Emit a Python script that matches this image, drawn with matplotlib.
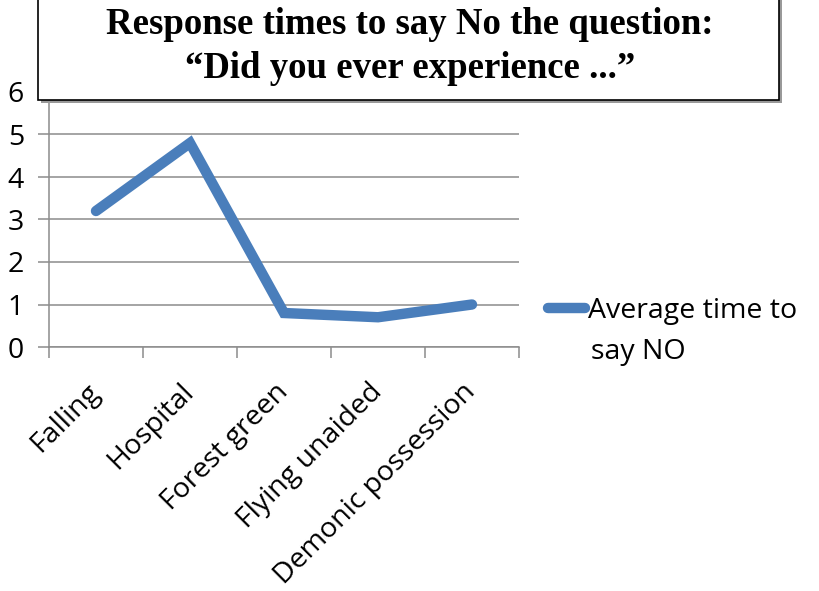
import matplotlib
matplotlib.use('Agg')
import matplotlib.pyplot as plt
from matplotlib.patches import Rectangle
from matplotlib.transforms import ScaledTranslation

# data
categories = ['Falling', 'Hospital', 'Forest green', 'Flying unaided', 'Demonic possession']
avg_time_no = [3.2, 4.8, 0.8, 0.7, 1.0]
series_label = 'Average time to'
series_label_2 = 'say NO'
title_lines = ['Response times to say No the question:', '\u201cDid you ever experience ...\u201d']

plt.rcParams['font.family'] = ['Open Sans', 'DejaVu Sans']

fig = plt.figure(figsize=(8.2, 5.91), dpi=100)
ax = fig.add_axes([49 / 820, 1 - 347 / 591, 470 / 820, 255 / 591])

blue = '#4A7EBB'
grid_c = '#8C8C8C'

x = list(range(len(categories)))
ax.plot(x, avg_time_no, color=blue, lw=7.5, solid_capstyle='round',
        solid_joinstyle='miter', label=series_label, zorder=3)

ax.set_xlim(-0.5, len(categories) - 0.5)
ax.set_ylim(0, 6)
ax.set_yticks(range(0, 7))
ax.yaxis.grid(True, color=grid_c, lw=1.1)
ax.set_axisbelow(True)

for s in ['top', 'right']:
    ax.spines[s].set_visible(False)
for s in ['left', 'bottom']:
    ax.spines[s].set_color(grid_c)
    ax.spines[s].set_linewidth(1.1)

ax.set_xticks(x)
ax.set_xticklabels(categories, rotation=45, ha='right', rotation_mode='anchor')
ax.set_xticks([i - 0.5 for i in range(len(categories) + 1)], minor=True)
ax.tick_params(axis='x', which='major', length=0, pad=12, labelsize=20.5)
ax.tick_params(axis='x', which='minor', length=8, width=1.1, color=grid_c, direction='out')
ax.tick_params(axis='y', length=8, width=1.1, color=grid_c, labelsize=20.5, pad=10)

# nudge the slanted labels down-left like the original
shift = ScaledTranslation(-10 / 100, -14 / 100, fig.dpi_scale_trans)
for lab in ax.get_xticklabels():
    lab.set_transform(lab.get_transform() + shift)

# title box on top of the plot
box = Rectangle((38 / 820, 1 - 100 / 591), 741 / 820, 110 / 591, transform=fig.transFigure,
                facecolor='white', edgecolor='black', lw=1.2, zorder=5, clip_on=False)
shadow = Rectangle((41 / 820, 1 - 103 / 591), 741 / 820, 110 / 591, transform=fig.transFigure,
                   facecolor='#999999', edgecolor='none', zorder=4, clip_on=False)
fig.patches.extend([shadow, box])
fig.text(410 / 820, 1 - 25 / 591, title_lines[0], ha='center', va='center',
         fontsize=26.5, fontweight='bold', family='Liberation Serif', zorder=6)
fig.text(410 / 820, 1 - 68 / 591, title_lines[1], ha='center', va='center',
         fontsize=26.5, fontweight='bold', family='Liberation Serif', zorder=6)

leg = ax.legend(loc='center left', bbox_to_anchor=(548 / 820, 1 - 311 / 591),
                bbox_transform=fig.transFigure, frameon=False, fontsize=20.5,
                handlelength=1.3, handletextpad=0.1, borderpad=0, borderaxespad=0)
fig.text(591 / 820, 1 - 352 / 591, series_label_2, ha='left', va='center', fontsize=20.5)

fig.savefig('out.png', dpi=100)
